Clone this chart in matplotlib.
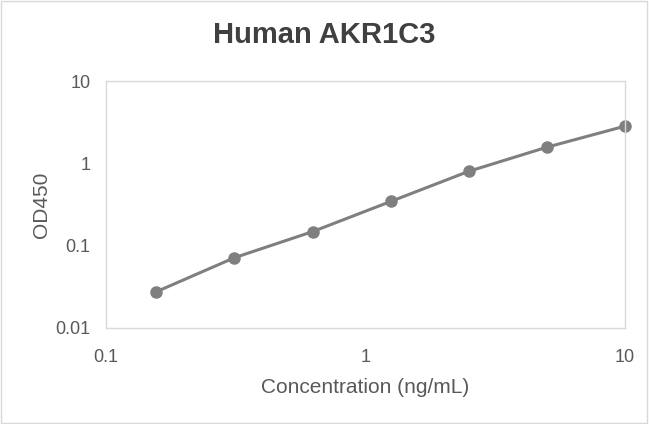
import matplotlib
matplotlib.use('Agg')
import matplotlib.pyplot as plt
from matplotlib.ticker import FixedLocator, FixedFormatter, NullLocator
from matplotlib.patches import Rectangle

# standard curve data
conc = [0.156, 0.3125, 0.625, 1.25, 2.5, 5, 10]
od450 = [0.0275, 0.0714, 0.148, 0.344, 0.80, 1.57, 2.83]
xticks = [0.1, 1, 10]
xlabels = ['0.1', '1', '10']
yticks = [0.01, 0.1, 1, 10]
ylabels = ['0.01', '0.1', '1', '10']

plt.rcParams['font.family'] = ['Liberation Sans', 'DejaVu Sans']

fig = plt.figure(figsize=(6.49, 4.24), dpi=100)
ax = fig.add_axes([106/649, 1 - 328/424, (625-106)/649, (328-81)/424])

gray = '#7f7f7f'
ax.plot(conc, od450, color=gray, linewidth=2.2, marker='o', markersize=8)

ax.set_xscale('log')
ax.set_yscale('log')
ax.set_xlim(0.1, 10)
ax.set_ylim(0.01, 10)
ax.xaxis.set_major_locator(FixedLocator(xticks))
ax.xaxis.set_major_formatter(FixedFormatter(xlabels))
ax.yaxis.set_major_locator(FixedLocator(yticks))
ax.yaxis.set_major_formatter(FixedFormatter(ylabels))
ax.xaxis.set_minor_locator(NullLocator())
ax.yaxis.set_minor_locator(NullLocator())
ax.tick_params(length=0, labelsize=13, colors='#595959')
ax.tick_params(axis='x', pad=15)
ax.tick_params(axis='y', pad=11)
for s in ax.spines.values():
    s.set_color('#d9d9d9')
    s.set_linewidth(1)
for p in ax.get_lines():
    p.set_clip_on(False)

ax.set_xlabel('Concentration (ng/mL)', fontsize=15, color='#595959', labelpad=9)
ax.set_ylabel('OD450', fontsize=15, color='#595959', labelpad=3)
fig.text(0.5, 1 - 35/424, 'Human AKR1C3', ha='center', va='center',
         fontsize=21, fontweight='bold', color='#404040')

fig.patches.append(Rectangle((0.002, 0.002), 0.995, 0.995, transform=fig.transFigure,
                             fill=False, edgecolor='#d9d9d9', linewidth=1))

plt.savefig('out.png', dpi=100)
plt.close()
